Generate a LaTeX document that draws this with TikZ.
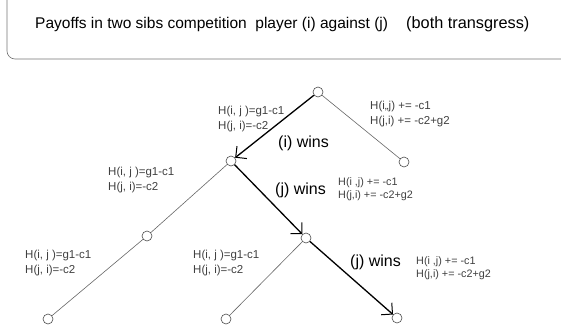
\documentclass[tikz,border=0pt]{standalone}
\usepackage{fontspec}
\setmainfont{Liberation Sans}
\usetikzlibrary{arrows.meta}
\begin{document}
\begin{tikzpicture}[x=1pt,y=-1pt,
  vtx/.style={circle,draw=black!70,fill=white,line width=0.6pt,minimum size=10pt,inner sep=0pt},
  thinedge/.style={draw=black!60,line width=0.6pt},
  win/.style={draw=black,line width=1.3pt,-{Straight Barb[length=8pt,width=16pt,line width=1pt]}},
  lab/.style={anchor=west,align=left,text=black!75,font=\fontsize{11.5}{14.5}\selectfont,inner sep=0pt},
  labb/.style={anchor=west,align=left,text=black!75,font=\fontsize{10.8}{12.5}\selectfont,inner sep=0pt},
  wins/.style={anchor=west,inner sep=0pt,font=\fontsize{16}{16}\selectfont},
  ttl/.style={anchor=west,inner sep=0pt,font=\fontsize{15.5}{17}\selectfont}]
\useasboundingbox (0,0) rectangle (561,332);
% title box
\draw[black!55,line width=0.6pt,rounded corners=8pt] (7,-20) -- (7,59) -- (600,59);
\node[ttl] (title) at (35,24) {Payoffs in two sibs competition\ \ player (i) against (j)};
\node[ttl,font=\fontsize{16.3}{17}\selectfont] (both) at (406,24) {(both transgress)};
% tree vertices
\node[vtx] (R) at (318,92) {};
\node[vtx] (A) at (404,162) {};
\node[vtx] (B) at (231,161) {};
\node[vtx] (C) at (147,236) {};
\node[vtx] (D) at (306,238) {};
\node[vtx] (E) at (48,319) {};
\node[vtx] (F) at (226,319) {};
\node[vtx] (G) at (397,318) {};
% edges
\draw[thinedge] (R) -- (A);
\draw[thinedge] (B) -- (C);
\draw[thinedge] (C) -- (E);
\draw[thinedge] (D) -- (F);
\draw[win] (R) -- (B);
\draw[win] (B) -- (D);
\draw[win] (D) -- (G);
% labels
\node[lab] (l1) at (218,119) {H(i, j )=g1-c1\\H(j, i)=-c2};
\node[lab] (r1) at (370,114) {H(i,,j) += -c1\\H(j,i) += -c2+g2};
\node[wins] (w1) at (278,143) {(i) wins};
\node[lab] (l2) at (108,180) {H(i, j )=g1-c1\\H(j, i)=-c2};
\node[wins] (w2) at (275,190) {(j) wins};
\node[labb] (r2) at (338,189) {H(i ,j) += -c1\\H(j,i) += -c2+g2};
\node[lab] (l3) at (25,263) {H(i, j )=g1-c1\\H(j, i)=-c2};
\node[lab] (l4) at (193,263) {H(i, j )=g1-c1\\H(j, i)=-c2};
\node[wins] (w3) at (350,262) {(j) wins};
\node[labb] (r3) at (416,268) {H(i ,j) += -c1\\H(j,i) += -c2+g2};
\end{tikzpicture}
\end{document}
